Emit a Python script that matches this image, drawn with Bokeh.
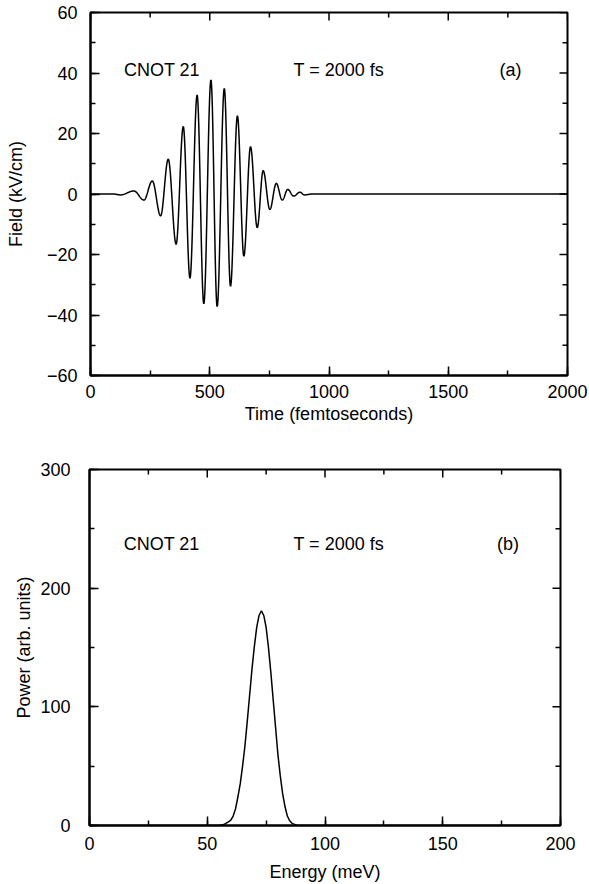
import numpy as np
from bokeh.plotting import figure
from bokeh.models import SingleIntervalTicker
from bokeh.core.properties import value
from bokeh.embed import file_html
from bokeh.resources import INLINE

# ---------------- data ----------------
# Panel (a): successive extrema of the field (time in fs, field in kV/cm)
field_t = [0, 95, 126, 182, 224, 259, 294, 326, 359, 389, 417, 447, 475, 505,
           531, 561, 587, 616, 643, 671, 699, 724, 752, 779, 804, 827, 852,
           878, 897, 930, 2000]
field_v = [0.0, 0.0, -0.3, 1.0, -2.0, 4.3, -7.2, 11.5, -16.6, 22.3, -27.8,
           32.7, -36.3, 37.7, -37.2, 34.9, -30.5, 25.8, -20.5, 15.6, -11.1,
           7.7, -5.1, 3.5, -2.0, 1.5, -0.7, 0.6, -0.3, 0.0, 0.0]

# Panel (b): power spectrum (energy in meV, power in arb. units)
energy = [0, 50, 55, 57, 59, 60, 61, 62, 63, 64, 65, 66, 67, 68, 69, 70, 71,
          72, 73, 74, 75, 76, 77, 78, 79, 80, 81, 82, 83, 84, 85, 86, 88, 90,
          200]
power = [0, 0, 0.1, 0.8, 3, 4.5, 8, 14, 24, 35, 50, 67, 88, 110, 132, 151,
         167, 177, 181, 177, 167, 150, 129, 106, 83, 60, 42, 27, 16, 8, 4,
         1.8, 0.3, 0, 0]

a_texts = ["CNOT 21", "T = 2000 fs", "(a)"]
b_texts = ["CNOT 21", "T = 2000 fs", "(b)"]

# tick values
x_major_a = [0, 500, 1000, 1500, 2000]
x_minor_a = [250, 750, 1250, 1750]
y_major_a = [-60, -40, -20, 0, 20, 40, 60]
y_minor_a = [-50, -30, -10, 10, 30, 50]
x_major_b = [0, 50, 100, 150, 200]
x_minor_b = [25, 75, 125, 175]
y_major_b = [0, 100, 200, 300]
y_minor_b = [50, 150, 250]

FONT = "Liberation Sans"
FS = "18px"


def smooth_through_extrema(t, v, n=30):
    xs, ys = [], []
    for i in range(len(t) - 1):
        s = np.linspace(0.0, 1.0, n, endpoint=False)
        xs.extend(t[i] + s * (t[i + 1] - t[i]))
        ys.extend(v[i] + (v[i + 1] - v[i]) * (1 - np.cos(np.pi * s)) / 2)
    xs.append(t[-1])
    ys.append(v[-1])
    return xs, ys


def minus(v):
    return ("\u2212" + str(abs(v))) if v < 0 else str(v)


def make_fig(width, height, xr, yr, bl, br, bt, bb, x_int, y_int,
             xmaj, xmin, ymaj, ymin, xlabel, ylabel,
             y_standoff, ylabel_standoff, x_standoff, xlabel_standoff):
    p = figure(width=width, height=height, x_range=xr, y_range=yr,
               output_backend="svg", toolbar_location=None,
               min_border_left=bl, min_border_right=br,
               min_border_top=bt, min_border_bottom=bb)
    p.xgrid.visible = False
    p.ygrid.visible = False
    p.outline_line_color = "black"
    p.outline_line_width = 2
    p.background_fill_color = "white"
    p.border_fill_color = "white"
    for ax in p.axis:
        ax.axis_line_width = 2
        ax.axis_line_color = "black"
        ax.major_tick_in = 9
        ax.major_tick_out = 0
        ax.minor_tick_in = 5
        ax.minor_tick_out = 0
        ax.major_tick_line_width = 1.5
        ax.minor_tick_line_width = 1.5
        ax.major_tick_line_color = "black"
        ax.minor_tick_line_color = "black"
        ax.major_label_text_font = FONT
        ax.major_label_text_font_size = FS
        ax.major_label_text_color = "black"
        ax.axis_label_text_font = FONT
        ax.axis_label_text_font_size = FS
        ax.axis_label_text_font_style = "normal"
        ax.axis_label_text_color = "black"
    bx = p.below[0]
    bx.ticker = SingleIntervalTicker(interval=x_int, num_minor_ticks=2)
    bx.axis_label = xlabel
    bx.major_label_standoff = x_standoff
    bx.axis_label_standoff = xlabel_standoff
    bx.major_label_overrides = {v: minus(v) for v in xmaj}
    ly = p.left[0]
    ly.ticker = SingleIntervalTicker(interval=y_int, num_minor_ticks=2)
    ly.axis_label = ylabel
    ly.major_label_standoff = y_standoff
    ly.axis_label_standoff = ylabel_standoff
    ly.major_label_overrides = {v: minus(v) for v in ymaj}
    # inward ticks on the top and right edges (markers clipped by the frame)
    x1 = xr[1]
    y1 = yr[1]
    p.scatter(xmaj, [y1] * len(xmaj), marker="dash", angle=np.pi / 2,
              size=16, line_color="black", line_width=1.5)
    p.scatter(xmin, [y1] * len(xmin), marker="dash", angle=np.pi / 2,
              size=10, line_color="black", line_width=1.5)
    p.scatter([x1] * len(ymaj), ymaj, marker="dash",
              size=16, line_color="black", line_width=1.5)
    p.scatter([x1] * len(ymin), ymin, marker="dash",
              size=10, line_color="black", line_width=1.5)
    return p


# ---------------- panel (a) ----------------
p1 = make_fig(589, 440, (0, 2000), (-60, 60), 90, 22, 12, 65, 500, 20,
              x_major_a, x_minor_a, y_major_a, y_minor_a,
              "Time (femtoseconds)", "Field (kV/cm)",
              13, 18, 9, 3)
fx, fy = smooth_through_extrema(field_t, field_v)
p1.line(fx, fy, line_color="black", line_width=1.5)
p1.text(x=[140, 851, 1715], y=[41, 41, 41], text=a_texts,
        text_font=value(FONT), text_font_size=FS, text_color="black",
        text_baseline="middle", text_align="left")

# ---------------- panel (b) ----------------
p2 = make_fig(589, 444, (0, 200), (0, 300), 89, 29, 29, 57, 50, 100,
              x_major_b, x_minor_b, y_major_b, y_minor_b,
              "Energy (meV)", "Power (arb. units)",
              19, 3, 11, 9)
p2.line(energy, power, line_color="black", line_width=1.5)
p2.text(x=[14.5, 86.6, 173], y=[237, 237, 237], text=b_texts,
        text_font=value(FONT), text_font_size=FS, text_color="black",
        text_baseline="middle", text_align="left")

open("out.html", "w").write(file_html([p1, p2], INLINE))
